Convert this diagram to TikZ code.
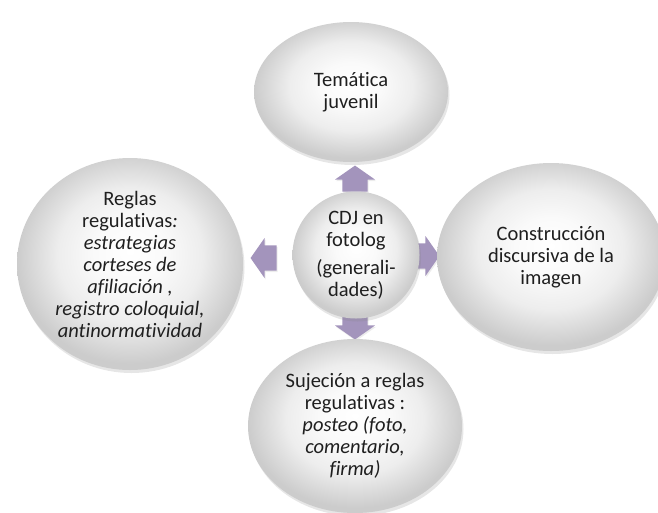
\documentclass[tikz,border=0pt]{standalone}
\usepackage{fontspec}
\setmainfont{Carlito}[Ligatures=NoCommon]
\usetikzlibrary{shapes.geometric,shapes.arrows,shadows,positioning}
\definecolor{blockpurple}{RGB}{163,148,188}
\pgfdeclareradialshading{bubbleshade}{\pgfpoint{0bp}{3bp}}{%
    color(0bp)=(white); color(8bp)=(white!98!black); color(16bp)=(black!7);
    color(25bp)=(black!20); color(50bp)=(black!22)}
\begin{document}
\begin{tikzpicture}[x=1pt, y=-1pt,
    bubble/.style = {ellipse, inner sep=0pt, shading=bubbleshade,
                     drop shadow={shadow xshift=1.5pt, shadow yshift=-3pt, opacity=0.2}},
    txt/.style = {align=center, font=\fontsize{20.5}{22}\selectfont, text=black!88},
    block/.style = {single arrow, draw=none, fill=blockpurple, inner xsep=0pt, inner ysep=12pt,
                    minimum height=26pt, minimum width=40pt,
                    single arrow head extend=7pt, single arrow tip angle=110,
                    drop shadow={shadow xshift=1pt, shadow yshift=-1.5pt, opacity=0.15}}]
    \useasboundingbox (0,0) rectangle (658,512);

    % block arrows first, the bubbles cover their tails
    \node[block, rotate=90] (up) at (355,183) {};
    \node[block, rotate=-90] (down) at (355,322) {};
    \node[block, rotate=180] (left) at (268,258) {};
    \node[block] (right) at (422,256) {};

    \node[bubble, minimum width=194pt, minimum height=140pt] (1) at (351,92) {};
    \node[bubble, minimum width=226pt, minimum height=212pt] (2) at (130,264) {};
    \node[bubble, minimum width=228pt, minimum height=188pt] (3) at (551,257) {};
    \node[bubble, minimum width=214pt, minimum height=174pt] (4) at (355,426) {};
    \node[bubble, minimum width=127pt, minimum height=127pt] (0) at (356,255) {};

    \node[txt] (1t) at (1) {Temática\\juvenil};
    \node[txt] (2t) at (2) {Reglas\\regulativas\textit{:}\\\textit{estrategias}\\\textit{corteses de}\\\textit{afiliación ,}\\\textit{registro coloquial,}\\\textit{antinormatividad}};
    \node[txt] (3t) at (3) {Construcción\\discursiva de la\\imagen};
    \node[txt] (4t) at (4) {Sujeción a reglas\\regulativas :\\\textit{posteo (foto,}\\\textit{comentario,}\\\textit{firma)}};
    \node[txt] (0t) at (0) {CDJ en\\fotolog\\[6pt](generali-\\dades)};
\end{tikzpicture}
\end{document}
